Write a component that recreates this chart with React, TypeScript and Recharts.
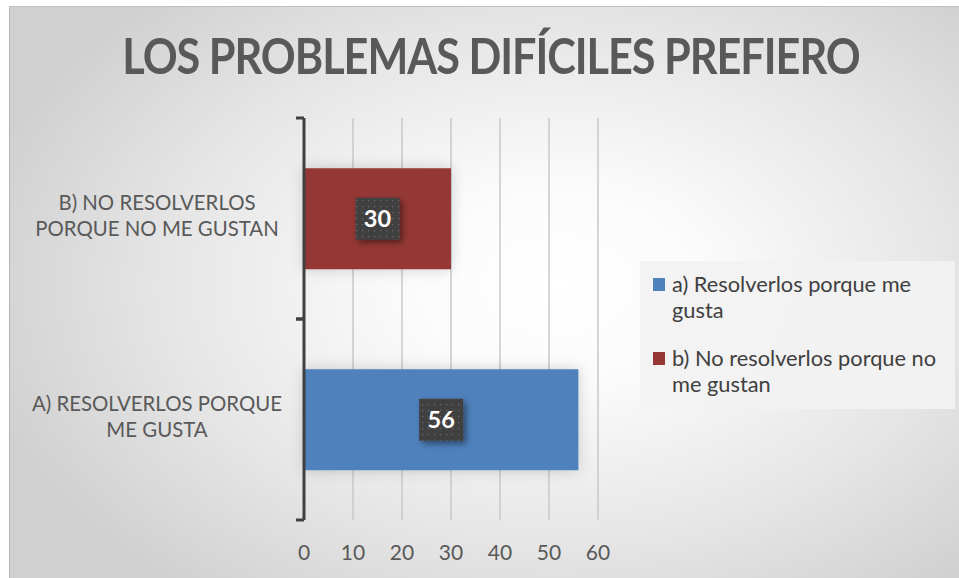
import React from "react";
import { BarChart, Bar, XAxis, YAxis, CartesianGrid, Cell, LabelList } from "recharts";

const title = "LOS PROBLEMAS DIFÍCILES PREFIERO";
const categories = ["B) NO RESOLVERLOS PORQUE NO ME GUSTAN", "A) RESOLVERLOS PORQUE ME GUSTA"];
const categoryLines = [
  ["B) NO RESOLVERLOS", "PORQUE NO ME GUSTAN"],
  ["A) RESOLVERLOS PORQUE", "ME GUSTA"],
];
const values = [30, 56];
const barColors = ["#953735", "#4f81bd"];
const xTicks = [0, 10, 20, 30, 40, 50, 60];
const legendLabels = [
  ["a) Resolverlos porque me", "gusta"],
  ["b) No resolverlos porque no", "me gustan"],
];
const legendColors = ["#4f81bd", "#953735"];

const data = categories.map((c, i) => ({ name: c, value: values[i] }));

const FONT = "Lato, 'Open Sans', sans-serif";

const CatTick = (props: any) => {
  const { x, y, payload, height, visibleTicksCount, index } = props;
  const count = visibleTicksCount || categories.length;
  const band = (height || 0) / count;
  const idx = categories.indexOf(payload.value);
  const lines = categoryLines[idx >= 0 ? idx : index] || [payload.value];
  const lh = 26;
  const startY = y - ((lines.length - 1) * lh) / 2 - 3;
  return (
    <g>
      <line x1={x} x2={x + 8} y1={y - band / 2} y2={y - band / 2} stroke="#404040" strokeWidth={3} />
      <line x1={x} x2={x + 8} y1={y + band / 2} y2={y + band / 2} stroke="#404040" strokeWidth={3} />
      <text x={x - 139} y={startY} textAnchor="middle" fill="#595959" fontSize={20.4} fontFamily={FONT}>
        {lines.map((l: string, i: number) => (
          <tspan key={i} x={x - 139} y={startY + i * lh} dy="0.36em">
            {l}
          </tspan>
        ))}
      </text>
    </g>
  );
};

const ValueLabel = (props: any) => {
  const { x, y, width, height, value } = props;
  const cx = x + width / 2;
  const cy = y + height / 2;
  const w = 44;
  const h = 42;
  return (
    <g>
      <rect x={cx - w / 2} y={cy - h / 2} width={w} height={h} fill="#404040" filter="url(#lblShadow)" />
      <rect x={cx - w / 2} y={cy - h / 2} width={w} height={h} fill="url(#dots)" />
      <text x={cx} y={cy} dy="0.36em" textAnchor="middle" fill="#ffffff" fontSize={23.5} fontWeight={700} fontFamily={FONT}>
        {value}
      </text>
    </g>
  );
};

const LegendBox = () => (
  <div
    style={{
      position: "absolute",
      left: 640,
      top: 261,
      width: 315,
      height: 148,
      background: "rgba(242,242,242,0.92)",
      boxSizing: "border-box",
      paddingTop: 10,
      paddingLeft: 13,
      fontFamily: FONT,
      fontSize: 21.8,
      color: "#404040",
      whiteSpace: "nowrap",
    }}
  >
    {legendLabels.map((lines, i) => (
      <div key={i} style={{ display: "flex", alignItems: "flex-start", marginBottom: 22 }}>
        <div style={{ width: 12, height: 13, background: legendColors[i], marginTop: 7, marginRight: 7, flex: "none" }} />
        <div style={{ lineHeight: "26px" }}>
          {lines.map((l, j) => (
            <div key={j}>{l}</div>
          ))}
        </div>
      </div>
    ))}
  </div>
);

export default function App() {
  return (
    <div
      style={{
        position: "absolute",
        top: 0,
        left: 0,
        width: 959,
        height: 578,
        background: "#ffffff",
        overflow: "hidden",
      }}
    >
      <svg width={0} height={0} style={{ position: "absolute" }}>
        <defs>
          <pattern id="dots" width={6} height={6} patternUnits="userSpaceOnUse">
            <rect x={2} y={2} width={1.2} height={1.2} fill="#6a6a6a" />
          </pattern>
          <filter id="lblShadow" x="-50%" y="-50%" width="200%" height="200%">
            <feDropShadow dx={3} dy={3} stdDeviation={3} floodColor="#000" floodOpacity={0.45} />
          </filter>
          <filter id="barShadow" x="-30%" y="-50%" width="160%" height="200%">
            <feDropShadow dx={0} dy={0} stdDeviation={7} floodColor="#000" floodOpacity={0.18} />
          </filter>
        </defs>
      </svg>
      <div
        style={{
          position: "absolute",
          left: 9,
          top: 6,
          width: 960,
          height: 580,
          boxSizing: "border-box",
          borderLeft: "1px solid #b5b5b5",
          borderTop: "1px solid #c0c0c0",
          background: "radial-gradient(ellipse 62% 68% at 57% 48%, #ffffff 0%, #fbfbfb 25%, #e6e6e6 65%, #d0d0d0 100%)",
        }}
      />
      <div
        style={{
          position: "absolute",
          left: 0,
          top: 21,
          width: 982,
          textAlign: "center",
          fontFamily: FONT,
          fontWeight: 700,
          fontSize: 50,
          lineHeight: "68px",
          color: "#595959",
          letterSpacing: -1.2,
          whiteSpace: "nowrap",
          transform: "scaleX(0.865)",
          transformOrigin: "491px 50%",
        }}
      >
        {title}
      </div>
      <LegendBox />
      <div style={{ position: "absolute", left: 0, top: 0 }}>
        <BarChart
          width={959}
          height={578}
          data={data}
          layout="vertical"
          margin={{ top: 118, right: 361, bottom: 18, left: 8 }}
          barCategoryGap="25%"
        >
          <CartesianGrid horizontal={false} stroke="#c9c9c9" strokeWidth={1.5} />
          <XAxis
            type="number"
            domain={[0, 60]}
            ticks={xTicks}
            interval={0}
            axisLine={false}
            tickLine={false}
            tickSize={0}
            tickMargin={25}
            height={40}
            tick={{ fill: "#595959", fontSize: 21, fontFamily: FONT }}
          />
          <YAxis
            type="category"
            dataKey="name"
            width={296}
            tickSize={8}
            tickMargin={0}
            tickLine={false}
            interval={0}
            axisLine={{ stroke: "#404040", strokeWidth: 3 }}
            tick={<CatTick />}
          />
          <Bar dataKey="value" isAnimationActive={false} style={{ filter: "url(#barShadow)" }}>
            {data.map((d, i) => (
              <Cell key={d.name} fill={barColors[i]} />
            ))}
            <LabelList dataKey="value" content={<ValueLabel />} />
          </Bar>
        </BarChart>
      </div>
    </div>
  );
}
